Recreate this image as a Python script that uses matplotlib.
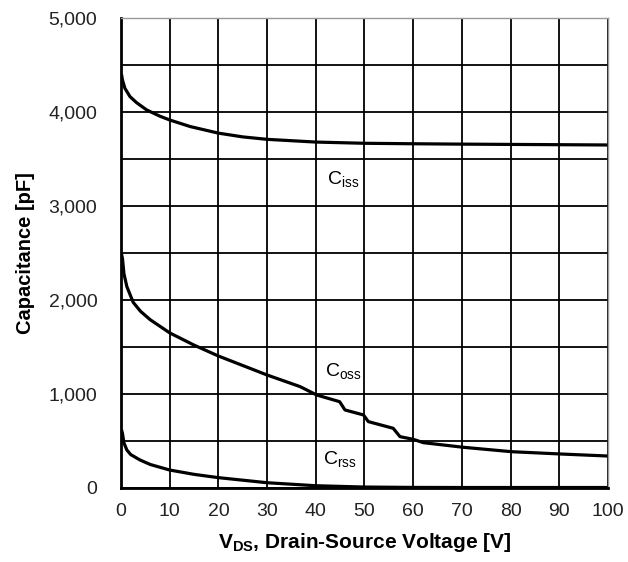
import matplotlib
matplotlib.use("Agg")
import matplotlib.pyplot as plt

plt.rcParams['font.family'] = ['Liberation Sans', 'DejaVu Sans']
plt.rcParams['mathtext.fontset'] = 'custom'
plt.rcParams['mathtext.rm'] = 'Liberation Sans'
plt.rcParams['mathtext.bf'] = 'Liberation Sans:bold'

# values (V, pF)
vds_ciss = [0.1, 0.3, 0.8, 1.85, 3.2, 5.3, 8, 10, 14.2, 20, 25, 30, 40, 50, 60, 70, 80, 90, 100]
ciss = [4400, 4340, 4252, 4163, 4099, 4021, 3955, 3915, 3845, 3775, 3735, 3709, 3680, 3667,
        3662, 3658, 3655, 3652, 3649]

vds_coss = [0.1, 0.3, 0.6, 1.2, 2.5, 4, 6, 10, 15, 20, 30, 36.8, 40.2, 44.9, 46.0, 49.8, 50.8,
            55.9, 57.3, 60, 62.1, 70.3, 80.2, 90.1, 100]
coss = [2490, 2440, 2280, 2142, 1975, 1880, 1790, 1650, 1520, 1404, 1202, 1078, 989, 918, 830,
        777, 706, 635, 546, 518, 482, 433, 386, 362, 340]

vds_crss = [0.1, 0.3, 0.6, 1.2, 2.0, 3.9, 6, 10, 15, 20, 30, 40, 50, 60, 70, 80, 90, 100]
crss = [620, 580, 480, 404, 355, 298, 250, 191, 145, 110, 56, 24, 10, 6, 5, 5, 5, 5]

x_ticks = list(range(0, 101, 10))
y_ticks = [0, 1000, 2000, 3000, 4000, 5000]
y_labels = ['0', '1,000', '2,000', '3,000', '4,000', '5,000']

fig = plt.figure(figsize=(6.28, 5.62), dpi=100)
ax = fig.add_axes([0.1927, 0.1317, 0.7753, 0.8363])

for xs, ys in [(vds_ciss, ciss), (vds_coss, coss), (vds_crss, crss)]:
    ax.plot(xs, ys, color='black', lw=2.3, solid_capstyle='butt', solid_joinstyle='round')

ax.set_xlim(0, 100)
ax.set_ylim(0, 5000)
ax.set_xticks(x_ticks)
ax.set_yticks(y_ticks)
ax.set_yticklabels(y_labels)
ax.set_yticks(range(0, 5001, 500), minor=True)
ax.grid(True, which='both', color='black', lw=1.3)
ax.set_axisbelow(True)
ax.tick_params(which='both', length=0, labelsize=14, colors='#222222')
ax.tick_params(axis='x', pad=11)
ax.tick_params(axis='y', pad=17)

for side in ['left', 'bottom']:
    ax.spines[side].set_linewidth(2)
for side in ['top', 'right']:
    ax.spines[side].set_color('#999999')
    ax.spines[side].set_linewidth(1)

ax.text(42.3, 3230, r'C$_{\mathrm{iss}}$', fontsize=14, ha='left', va='baseline')
ax.text(41.9, 1186, r'C$_{\mathrm{oss}}$', fontsize=14, ha='left', va='baseline')
ax.text(41.4, 250, r'C$_{\mathrm{rss}}$', fontsize=14, ha='left', va='baseline')

ax.set_xlabel(r'$\mathbf{V_{DS}}$, Drain-Source Voltage [V]', fontsize=15, fontweight='bold', labelpad=8)
ax.set_ylabel('Capacitance [pF]', fontsize=14.5, fontweight='bold', labelpad=10)

fig.savefig('out.png', dpi=100)
